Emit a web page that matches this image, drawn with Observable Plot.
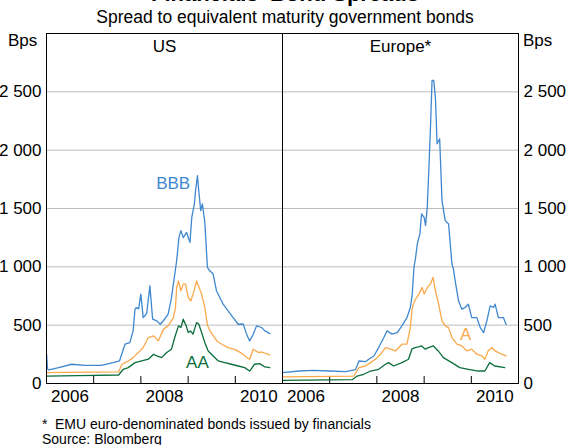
<!DOCTYPE html>
<html><head><meta charset="utf-8">
<script src="https://cdn.jsdelivr.net/npm/d3@7"></script>
<script src="https://cdn.jsdelivr.net/npm/@observablehq/plot@0.6"></script>
<style>
body{margin:0;background:#fff;}
#wrap{position:relative;width:570px;height:445px;overflow:hidden;font-family:"Liberation Sans",Arial,sans-serif;color:#000;background:#fff;}
#chart{position:absolute;left:0;top:0;}
.t{position:absolute;white-space:nowrap;line-height:1;}
</style></head><body>
<div id="wrap">
  <div id="chart"></div>
  <div class="t" style="left:0;width:570px;text-align:center;top:-16.8px;font-size:22px;font-weight:bold;">Financials' Bond Spreads</div>
  <div class="t" style="left:0;width:570px;text-align:center;top:8.5px;font-size:17.5px;">Spread to equivalent maturity government bonds</div>
  <div class="t" style="left:8px;top:31.5px;font-size:17px;">Bps</div>
  <div class="t" style="left:523px;top:31.5px;font-size:17px;">Bps</div>
  <div class="t" style="left:42px;top:417px;font-size:14px;">*</div>
  <div class="t" style="left:55px;top:417px;font-size:14px;">EMU euro-denominated bonds issued by financials</div>
  <div class="t" style="left:42px;top:432px;font-size:14px;">Source: Bloomberg</div>
</div>
<script>
// ---- data (Bps) ----
const panels = ["US", "Europe*"];
const seriesNames = ["BBB", "A", "AA"];
const seriesColors = ["#3f88d0", "#f9a94c", "#0c6e3c"];
const yTicks = [0, 500, 1000, 1500, 2000, 2500];
const gridValues = [500, 1000, 1500, 2000, 2500];
const yearTicks = ["2007-01-01", "2008-01-01", "2009-01-01", "2010-01-01"];
const yearLabels = ["2006-07-02", "2008-07-02", "2010-07-02"];

const usBBB = [
  ["2006-01-02",250],["2006-01-09",125],["2006-01-20",116],["2006-04-05",136],["2006-07-15",165],
  ["2006-10-25",156],["2007-03-01",156],["2007-06-01",179],["2007-07-20",193],["2007-08-20",300],
  ["2007-09-01",337],["2007-10-08",350],["2007-11-02",451],["2007-11-17",637],["2007-11-28",651],
  ["2007-12-15",640],["2008-01-01",766],["2008-01-19",565],["2008-02-15",600],["2008-03-11",837],
  ["2008-04-01",551],["2008-05-04",537],["2008-05-30",508],["2008-06-25",540],["2008-07-30",594],
  ["2008-08-25",737],["2008-09-16",909],["2008-10-04",1052],["2008-10-22",1252],["2008-11-06",1310],
  ["2008-11-24",1250],["2008-12-20",1295],["2009-01-15",1209],["2009-01-29",1424],["2009-02-18",1539],
  ["2009-02-27",1650],["2009-03-14",1782],["2009-03-24",1654],["2009-04-08",1482],["2009-04-21",1539],
  ["2009-05-10",1381],["2009-05-30",995],["2009-06-17",966],["2009-07-13",940],["2009-08-08",795],
  ["2009-09-29",680],["2009-11-06",623],["2009-12-15",565],["2010-01-23",508],["2010-03-03",510],
  ["2010-03-29",423],["2010-04-22",365],["2010-05-19",420],["2010-06-14",494],["2010-07-23",480],
  ["2010-08-18",451],["2010-09-25",428]
];
const usA = [
  ["2006-01-02",93],["2006-06-01",96],["2007-01-01",97],["2007-07-13",99],["2007-08-08",165],
  ["2007-09-01",179],["2007-09-26",193],["2007-11-02",222],["2007-12-13",265],["2008-01-19",308],
  ["2008-02-28",394],["2008-04-09",408],["2008-05-15",365],["2008-06-24",466],["2008-07-30",494],
  ["2008-09-09",565],["2008-09-25",651],["2008-10-04",823],["2008-10-18",880],["2008-11-06",794],
  ["2008-11-24",852],["2008-12-12",852],["2009-01-02",737],["2009-01-22",709],["2009-02-15",790],
  ["2009-03-07",880],["2009-03-24",830],["2009-04-15",766],["2009-05-10",651],["2009-05-30",500],
  ["2009-06-25",440],["2009-07-20",400],["2009-08-15",360],["2009-09-29",330],["2009-11-06",308],
  ["2009-12-30",290],["2010-02-15",262],["2010-04-01",222],["2010-04-22",208],["2010-05-19",294],
  ["2010-07-01",265],["2010-07-23",270],["2010-09-25",245]
];
const usAA = [
  ["2006-01-02",64],["2006-09-01",68],["2007-07-13",73],["2007-08-18",122],["2007-09-25",136],
  ["2007-11-17",179],["2008-01-08",193],["2008-02-28",208],["2008-04-09",251],["2008-05-04",236],
  ["2008-06-10",222],["2008-07-19",265],["2008-08-25",294],["2008-09-19",394],["2008-10-18",494],
  ["2008-11-06",480],["2008-11-24",551],["2008-12-17",494],["2009-01-02",437],["2009-01-20",450],
  ["2009-02-08",423],["2009-03-07",522],["2009-03-24",510],["2009-04-15",437],["2009-05-10",350],
  ["2009-06-05",279],["2009-07-14",236],["2009-08-22",193],["2009-10-12",179],["2009-12-01",165],
  ["2010-01-23",150],["2010-03-14",136],["2010-04-22",107],["2010-05-30",165],["2010-07-08",170],
  ["2010-08-18",142],["2010-09-25",136]
];
const euBBB = [
  ["2006-01-02",93],["2006-05-10",107],["2006-08-22",113],["2006-12-28",107],["2007-05-05",101],
  ["2007-07-20",119],["2007-08-15",193],["2007-10-04",187],["2007-10-30",208],["2007-12-09",236],
  ["2008-01-15",308],["2008-02-24",394],["2008-03-20",451],["2008-04-28",423],["2008-06-06",437],
  ["2008-07-13",494],["2008-08-21",565],["2008-09-16",651],["2008-10-01",766],["2008-10-14",995],
  ["2008-10-27",1081],["2008-11-09",1196],["2008-11-29",1282],["2008-12-12",1453],["2009-01-01",1424],
  ["2009-01-12",1353],["2009-01-25",1510],["2009-02-06",1825],["2009-02-19",2197],["2009-03-03",2598],
  ["2009-03-16",2598],["2009-03-29",2455],["2009-04-11",2055],["2009-05-01",2098],["2009-05-19",1568],
  ["2009-06-13",1396],["2009-07-09",1367],["2009-08-04",1024],["2009-08-16",981],["2009-08-29",880],
  ["2009-09-24",709],["2009-10-20",637],["2009-11-13",651],["2009-12-09",680],["2010-01-04",565],
  ["2010-02-13",565],["2010-03-11",479],["2010-04-06",437],["2010-05-01",537],["2010-05-27",666],
  ["2010-06-21",651],["2010-07-04",680],["2010-07-29",565],["2010-09-06",565],["2010-09-27",505]
];
const euA = [
  ["2006-01-02",56],["2007-07-07",64],["2007-08-15",136],["2007-10-04",150],["2007-11-13",179],
  ["2007-12-21",208],["2008-01-30",251],["2008-03-08",308],["2008-04-16",294],["2008-05-24",279],
  ["2008-07-13",337],["2008-08-21",337],["2008-09-16",479],["2008-09-28",623],["2008-10-09",680],
  ["2008-10-27",723],["2008-11-21",766],["2008-12-16",823],["2009-01-01",766],["2009-01-25",823],
  ["2009-02-19",852],["2009-03-11",909],["2009-03-29",795],["2009-04-23",680],["2009-05-19",537],
  ["2009-06-13",494],["2009-07-09",479],["2009-08-04",394],["2009-09-12",337],["2009-10-20",322],
  ["2009-11-28",279],["2010-01-04",294],["2010-02-13",251],["2010-03-22",236],["2010-04-16",208],
  ["2010-05-11",279],["2010-06-08",308],["2010-07-04",279],["2010-07-29",265],["2010-08-25",251],
  ["2010-09-27",236]
];
const euAA = [
  ["2006-01-02",27],["2007-06-24",33],["2007-08-01",64],["2007-09-22",79],["2007-11-13",107],
  ["2008-01-15",122],["2008-03-08",165],["2008-04-01",179],["2008-05-10",150],["2008-07-13",179],
  ["2008-09-02",208],["2008-09-28",294],["2008-10-23",308],["2008-11-17",314],["2008-12-12",322],
  ["2009-01-10",294],["2009-02-03",308],["2009-03-14",322],["2009-04-20",279],["2009-05-30",222],
  ["2009-08-03",179],["2009-10-04",136],["2009-12-09",122],["2010-02-24",107],["2010-04-16",107],
  ["2010-05-23",179],["2010-07-01",150],["2010-09-16",136]
];
// in-chart series labels: [panel, series, date, value]
const seriesLabels = [
  ["US", "BBB", "2008-09-07", 1714],
  ["US", "AA", "2009-03-14", 176],
  ["Europe*", "A", "2009-11-18", 417]
];

// ---- build table ----
const parse = s => new Date(s + "T00:00:00Z");
const sources = [
  ["US", "BBB", usBBB], ["US", "A", usA], ["US", "AA", usAA],
  ["Europe*", "BBB", euBBB], ["Europe*", "A", euA], ["Europe*", "AA", euAA]
];
const rows = sources.flatMap(([panel, series, arr]) =>
  arr.map(([d, v]) => ({panel, series, date: parse(d), value: v})));
const labelRows = seriesLabels.map(([panel, series, d, v]) => ({panel, series, date: parse(d), value: v}));
const fmt = v => d3.format(",")(v).replace(/,/g, " ");

const chart = Plot.plot({
  width: 570,
  height: 445,
  marginTop: 33,
  marginBottom: 62,
  marginLeft: 45,
  marginRight: 52,
  style: {fontFamily: "Liberation Sans, Arial, sans-serif", fontSize: "17px", background: "transparent", color: "#000", overflow: "visible"},
  fx: {domain: panels, padding: 0, axis: null, label: null},
  x: {type: "utc", domain: [parse("2006-01-01"), parse("2011-01-01")], label: null},
  y: {domain: [0, 3000], label: null},
  color: {domain: seriesNames, range: seriesColors},
  marks: [
    Plot.gridY(gridValues, {stroke: "#bdbdbd", strokeOpacity: 1}),
    Plot.ruleX(yearTicks.map(parse), {stroke: "#000", insetTop: 343}),
    Plot.line(rows, {fx: "panel", x: "date", y: "value", z: "series", stroke: "series", strokeWidth: 1.3, curve: "linear"}),
    Plot.text(labelRows, {fx: "panel", x: "date", y: "value", text: "series", fill: "series", fontSize: 17}),
    Plot.text(panels, {fx: d => d, text: d => d, frameAnchor: "top", lineAnchor: "middle", dy: 13.5, fontSize: 17, fill: "#000"}),
    Plot.frame({stroke: "#000", strokeWidth: 1}),
    Plot.axisY(yTicks, {anchor: "left", tickSize: 0, tickPadding: 5, tickFormat: fmt, label: null, fontSize: 17}),
    Plot.axisY(yTicks, {anchor: "right", tickSize: 0, tickPadding: 5, tickFormat: fmt, label: null, fontSize: 17}),
    Plot.axisX(yearLabels.map(parse), {anchor: "bottom", tickSize: 0, tickPadding: 6, tickFormat: d3.utcFormat("%Y"), label: null, fontSize: 17})
  ]
});
document.getElementById("chart").appendChild(chart);
</script>
</body></html>
